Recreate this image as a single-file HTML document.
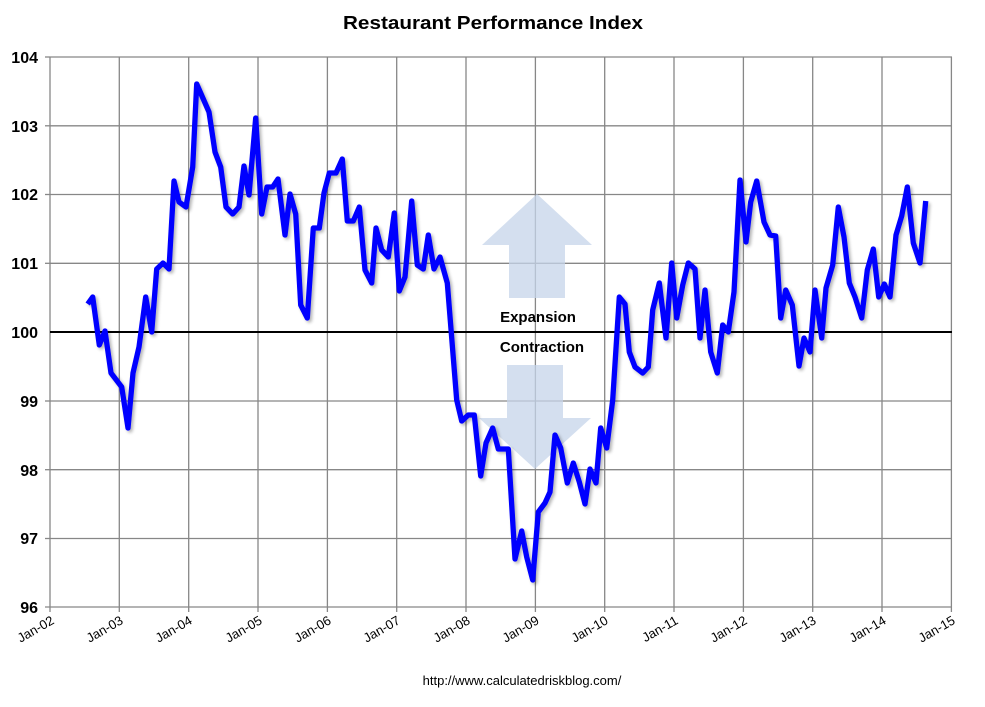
<!DOCTYPE html>
<html><head><meta charset="utf-8"><style>
body{margin:0;background:#fff}
svg text{font-family:"Liberation Sans",sans-serif}
</style></head><body>
<svg width="985" height="702" viewBox="0 0 985 702" xmlns="http://www.w3.org/2000/svg">
<defs><filter id="sh" x="-5%" y="-5%" width="110%" height="110%"><feGaussianBlur in="SourceAlpha" stdDeviation="1.5"/><feOffset dx="2" dy="2"/><feComponentTransfer><feFuncA type="linear" slope="0.3"/></feComponentTransfer><feMerge><feMergeNode/><feMergeNode in="SourceGraphic"/></feMerge></filter></defs>
<text x="493" y="29" text-anchor="middle" font-size="18" font-weight="bold" textLength="300" lengthAdjust="spacingAndGlyphs">Restaurant Performance Index</text>
<g stroke="#878787" stroke-width="1.3">
<line x1="50" y1="57" x2="952" y2="57"/><line x1="50" y1="125.8" x2="952" y2="125.8"/><line x1="50" y1="194.5" x2="952" y2="194.5"/><line x1="50" y1="263.3" x2="952" y2="263.3"/><line x1="50" y1="401" x2="952" y2="401"/><line x1="50" y1="469.7" x2="952" y2="469.7"/><line x1="50" y1="538.5" x2="952" y2="538.5"/>
<line x1="50" y1="57" x2="50" y2="612"/><line x1="45" y1="607" x2="952" y2="607"/>
<line x1="119.3" y1="57" x2="119.3" y2="612"/><line x1="188.7" y1="57" x2="188.7" y2="612"/><line x1="258" y1="57" x2="258" y2="612"/><line x1="327.4" y1="57" x2="327.4" y2="612"/><line x1="396.7" y1="57" x2="396.7" y2="612"/><line x1="466" y1="57" x2="466" y2="612"/><line x1="535.4" y1="57" x2="535.4" y2="612"/><line x1="604.7" y1="57" x2="604.7" y2="612"/><line x1="674" y1="57" x2="674" y2="612"/><line x1="743.4" y1="57" x2="743.4" y2="612"/><line x1="812.7" y1="57" x2="812.7" y2="612"/><line x1="882" y1="57" x2="882" y2="612"/><line x1="951.4" y1="57" x2="951.4" y2="612"/>
<line x1="45" y1="57" x2="50" y2="57"/><line x1="45" y1="125.8" x2="50" y2="125.8"/><line x1="45" y1="194.5" x2="50" y2="194.5"/><line x1="45" y1="263.3" x2="50" y2="263.3"/><line x1="45" y1="401" x2="50" y2="401"/><line x1="45" y1="469.7" x2="50" y2="469.7"/><line x1="45" y1="538.5" x2="50" y2="538.5"/>
</g>
<g font-size="16" font-weight="bold" text-anchor="end">
<text x="38" y="63">104</text><text x="38" y="132">103</text><text x="38" y="200">102</text><text x="38" y="269">101</text><text x="38" y="338">100</text><text x="38" y="407">99</text><text x="38" y="476">98</text><text x="38" y="544">97</text><text x="38" y="613">96</text>
</g>
<g font-size="13" text-anchor="end" fill="#000">
<text transform="translate(55,623) rotate(-30)">Jan-02</text>
<text transform="translate(124,623) rotate(-30)">Jan-03</text>
<text transform="translate(193,623) rotate(-30)">Jan-04</text>
<text transform="translate(263,623) rotate(-30)">Jan-05</text>
<text transform="translate(332,623) rotate(-30)">Jan-06</text>
<text transform="translate(401,623) rotate(-30)">Jan-07</text>
<text transform="translate(471,623) rotate(-30)">Jan-08</text>
<text transform="translate(540,623) rotate(-30)">Jan-09</text>
<text transform="translate(609,623) rotate(-30)">Jan-10</text>
<text transform="translate(679,623) rotate(-30)">Jan-11</text>
<text transform="translate(748,623) rotate(-30)">Jan-12</text>
<text transform="translate(817,623) rotate(-30)">Jan-13</text>
<text transform="translate(887,623) rotate(-30)">Jan-14</text>
<text transform="translate(956,623) rotate(-30)">Jan-15</text>
</g>
<g fill="#c5d4e9" fill-opacity="0.75">
<polygon points="482,245 537,194 592,245 565,245 565,298 509,298 509,245"/>
<polygon points="507,365 563,365 563,418 591,418 535,469 479,418 507,418"/>
</g>
<line x1="50" y1="332" x2="952" y2="332" stroke="#000" stroke-width="2"/>
<text x="538" y="322" text-anchor="middle" font-size="15" font-weight="bold">Expansion</text>
<text x="542" y="352" text-anchor="middle" font-size="15" font-weight="bold">Contraction</text>
<polyline filter="url(#sh)" fill="none" stroke="#0000ff" stroke-width="5.3" stroke-linejoin="round" points="87.7,304 92.7,297 99.3,345 105,331 111,373 121.7,387 128,428 133,373 139,347 145.7,297 151.7,332 156.7,269 163,263 169,269 174,181 179,202 186,207 192.7,167 196.7,84 209,112 215,152 220.7,167 226,207 232.7,214 239,207 244,166 249,195 255.7,118 261.7,214 267,187 272.7,187 278,179 285,235 290,194 295.7,214 300.7,305 307.3,318 313.3,228 319.3,228 324,193 329.3,173 336,173 342.3,159 347.3,221 353.3,221 359.3,207 365,270 371.7,283 376,228 381.7,250 388.3,257 394.3,213 399.3,291 405,277 411.7,201 417.3,265 423.3,269 428.3,235 434,269 440,257 447.3,283 456.7,400 461.7,421 468.3,415 474.3,415 480.7,476 486,443 492.7,428 498.3,449 508.3,449 515,559 521.7,531 526.7,557 532.7,580 538.3,512 545,503 550,492 555,435 560.7,448 567.3,483 573.3,463 579.3,482 585,504 590,469 596,483 600.7,428 606.7,448 612.7,400 619.3,297 625,304 629.3,352 635,367 642.7,373 648.3,367 652.7,310 659.3,283 666,338 671.7,263 676.7,318 682.7,285 688.3,263 695,269 700,338 705,290 710.7,352 717.3,373 722.7,325 728.3,332 734,292 740,180 746,242 750.7,202 756.7,181 764,222 770,235 775.7,236 780.7,318 785.7,290 792.3,305 799,366 804,338 810,352 815,290 821.7,338 826,288 832.7,265 838.3,207 844,237 849.3,283 855,297 861.7,318 867.3,270 873.3,249 878.7,297 884.3,284 890,297 896,235 901.7,216 907.3,187 913.3,243 920,263 925.7,201"/>
<text x="522" y="685" text-anchor="middle" font-size="13">http://www.calculatedriskblog.com/</text>
</svg>
</body></html>
